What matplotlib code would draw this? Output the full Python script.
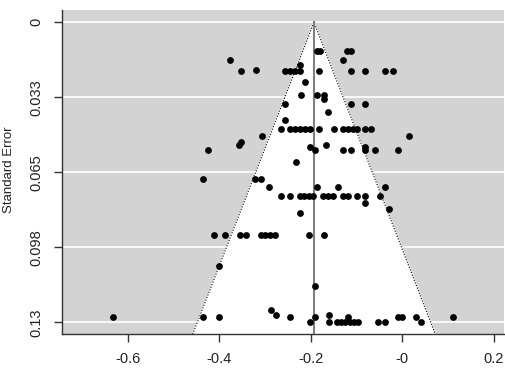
import matplotlib
matplotlib.use("Agg")
import matplotlib.pyplot as plt
import numpy as np

plt.rcParams['font.family'] = ['Liberation Sans', 'DejaVu Sans']

# pooled estimate (funnel centre) and observed studies
center = -0.193
se_max = 0.1352

effect = [
    -0.1854, -0.1788, -0.1199, -0.1127,
    -0.3768, -0.1295,
    -0.2240,
    -0.3207,
    -0.3534, -0.2567, -0.2458, -0.2349, -0.2240, -0.1825, -0.1112, -0.0806, -0.0385, -0.0204,
    -0.2131,
    -0.2203, -0.1863, -0.1716,
    -0.1716,
    -0.2556, -0.1112, -0.0806,
    -0.1622,
    -0.2556,
    -0.2655, -0.2443, -0.2334, -0.2225, -0.2116, -0.2022, -0.1825, -0.1498, -0.1295, -0.1186,
    -0.1077, -0.0981, -0.0806, -0.0691,
    -0.3076, 0.0149,
    -0.3534, -0.3560, -0.1673,
    -0.2022, -0.0806,
    -0.4241, -0.1913, -0.1295, -0.1112, -0.0806, -0.0603, -0.0091,
    -0.2327,
    -0.4350, -0.3215, -0.3091,
    -0.2906, -0.1858, -0.1411, -0.0370,
    -0.2655, -0.2443, -0.2240, -0.2142, -0.2044, -0.1945, -0.1732, -0.1622, -0.1509, -0.1295,
    -0.1186, -0.0981, -0.0806, -0.0494,
    -0.0806,
    -0.0298,
    -0.2240,
    -0.4117, -0.3877, -0.3538, -0.3425, -0.3098, -0.2993, -0.2884, -0.2775, -0.2033, -0.1716,
    -0.4008,
    -0.1913,
    -0.2879,
    -0.2770, -0.1607,
    -0.6327, -0.4350, -0.4008, -0.2443, -0.1913, -0.1186, -0.0095, -0.0003, 0.0307, 0.1110,
    -0.2022, -0.1607, -0.1426, -0.1330, -0.1243, -0.1149, -0.1062, -0.0968, -0.0527, -0.0385, 0.0400,
]

se = [
    0.0124, 0.0124, 0.0124, 0.0124,
    0.0163, 0.0163,
    0.0187,
    0.0206,
    0.0213, 0.0213, 0.0213, 0.0213, 0.0213, 0.0213, 0.0213, 0.0213, 0.0213, 0.0213,
    0.0260,
    0.0316, 0.0316, 0.0316,
    0.0334,
    0.0356, 0.0356, 0.0356,
    0.0387,
    0.0425,
    0.0462, 0.0462, 0.0462, 0.0462, 0.0462, 0.0462, 0.0462, 0.0462, 0.0462, 0.0462,
    0.0462, 0.0462, 0.0462, 0.0462,
    0.0491, 0.0491,
    0.0517, 0.0530, 0.0530,
    0.0539, 0.0539,
    0.0553, 0.0553, 0.0553, 0.0553, 0.0553, 0.0553, 0.0553,
    0.0604,
    0.0679, 0.0679, 0.0679,
    0.0712, 0.0712, 0.0712, 0.0712,
    0.0751, 0.0751, 0.0751, 0.0751, 0.0751, 0.0751, 0.0751, 0.0751, 0.0751, 0.0751,
    0.0751, 0.0751, 0.0751, 0.0751,
    0.0784,
    0.0810,
    0.0825,
    0.0923, 0.0923, 0.0923, 0.0923, 0.0923, 0.0923, 0.0923, 0.0923, 0.0923, 0.0923,
    0.1057,
    0.1143,
    0.1248,
    0.1268, 0.1268,
    0.1278, 0.1278, 0.1278, 0.1278, 0.1278, 0.1278, 0.1278, 0.1278, 0.1278, 0.1278,
    0.1300, 0.1300, 0.1300, 0.1300, 0.1300, 0.1300, 0.1300, 0.1300, 0.1300, 0.1300, 0.1300,
]

x_ticks = [-0.6, -0.4, -0.2, 0.0, 0.2]
x_labels = ["-0.6", "-0.4", "-0.2", "-0", "0.2"]
y_ticks = [0, 0.0325, 0.065, 0.0975, 0.13]
y_labels = ["0", "0.033", "0.065", "0.098", "0.13"]

fig = plt.figure(figsize=(5.06, 3.86), dpi=100)
ax = fig.add_axes([0.122, 0.134, 0.874, 0.840])
ax.set_facecolor('#d3d3d3')

xlim = (-0.744, 0.222)
ylim = (se_max, -0.0053)

# white gridlines on the grey background
for yt in y_ticks:
    ax.axhline(yt, color='white', lw=1.2, zorder=1)

# pseudo confidence region
fx = [center - 1.96 * se_max, center, center + 1.96 * se_max]
fy = [se_max, 0, se_max]
ax.fill(fx, fy, color='white', zorder=2)
ax.plot(fx, fy, color='black', lw=0.8, ls=(0, (1, 1.5)), zorder=3)
ax.plot([center, center], [0, se_max], color='#808080', lw=1.5, zorder=3)

ax.scatter(effect, se, s=24, color='black', zorder=4, linewidths=0)

ax.set_xlim(*xlim)
ax.set_ylim(*ylim)
ax.set_xticks(x_ticks)
ax.set_xticklabels(x_labels, fontsize=10.5, color='#222222')
ax.set_yticks(y_ticks)
ax.set_yticklabels(y_labels, fontsize=10.5, color='#222222', rotation=90, va='center')
ax.tick_params(length=6, width=1, color='#333333', pad=7)
fig.text(9 / 506, 0.56, "Standard Error", fontsize=9.5, color='#222222',
         rotation=90, ha='center', va='center')

for side in ['top', 'right']:
    ax.spines[side].set_visible(False)
for side in ['left', 'bottom']:
    ax.spines[side].set_color('#333333')
    ax.spines[side].set_linewidth(1)

fig.savefig("out.png", dpi=100)
